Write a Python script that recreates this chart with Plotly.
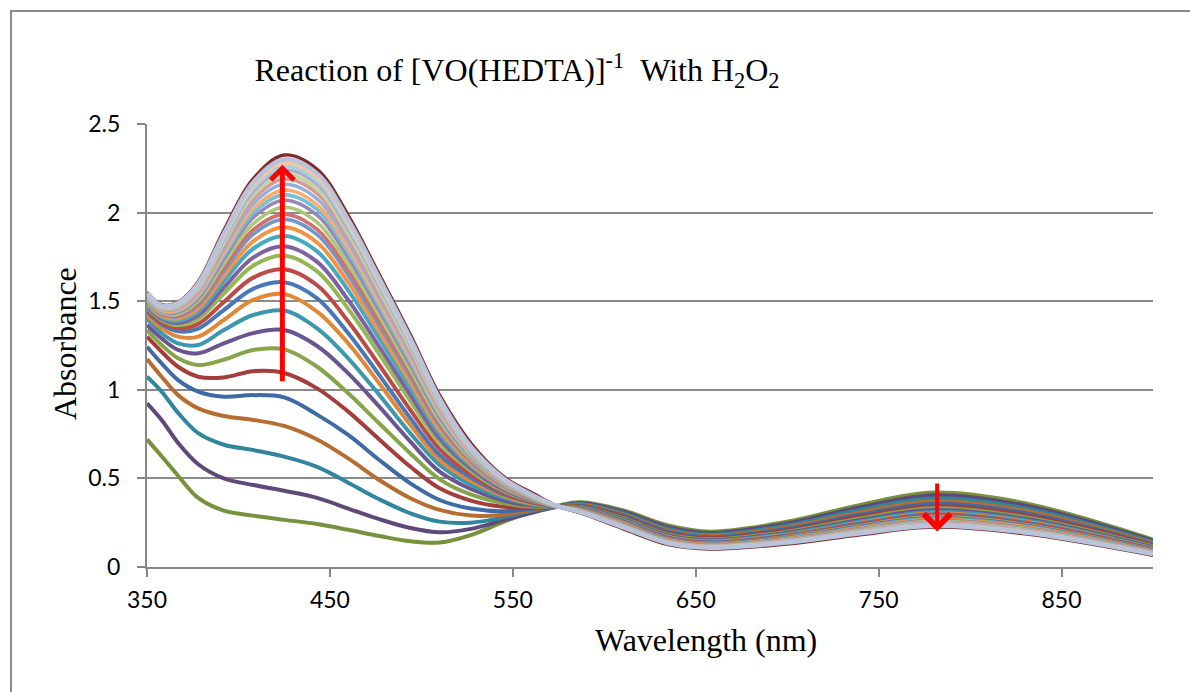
import plotly.graph_objects as go

# Wavelength grid (nm) at which absorbance values were read
wavelength = [350, 358, 367, 378, 392, 408, 425, 443, 460, 477, 494, 510, 527, 545, 562,
              574, 587, 610, 635, 658, 700, 740, 780, 830, 900]

# Absorbance spectra, in acquisition order (first scan = lowest at 425 nm)
scan01 = [0.72, 0.625, 0.515, 0.39, 0.318, 0.29, 0.266, 0.243, 0.21, 0.175, 0.145, 0.138, 0.18, 0.255, 0.315, 0.345, 0.365, 0.32, 0.234, 0.199, 0.255, 0.35, 0.42, 0.36, 0.155]
scan02 = [0.924, 0.83, 0.70, 0.58, 0.50, 0.463, 0.43, 0.39, 0.33, 0.27, 0.22, 0.196, 0.215, 0.265, 0.31, 0.34, 0.361, 0.313, 0.225, 0.192, 0.246, 0.337, 0.405, 0.347, 0.148]
scan03 = [1.074, 0.99, 0.87, 0.755, 0.69, 0.66, 0.623, 0.565, 0.476, 0.382, 0.303, 0.256, 0.25, 0.28, 0.32, 0.34, 0.355, 0.304, 0.215, 0.183, 0.234, 0.322, 0.387, 0.331, 0.14]
scan04 = [1.174, 1.074, 0.97, 0.895, 0.852, 0.83, 0.796, 0.72, 0.613, 0.491, 0.388, 0.322, 0.29, 0.295, 0.325, 0.34, 0.351, 0.297, 0.206, 0.175, 0.224, 0.308, 0.371, 0.317, 0.133]
scan05 = [1.243, 1.149, 1.055, 0.99, 0.961, 0.97, 0.957, 0.86, 0.745, 0.604, 0.472, 0.378, 0.33, 0.315, 0.33, 0.34, 0.346, 0.29, 0.198, 0.168, 0.215, 0.295, 0.356, 0.304, 0.127]
scan06 = [1.30, 1.215, 1.13, 1.074, 1.07, 1.105, 1.095, 1.008, 0.877, 0.72, 0.566, 0.444, 0.375, 0.34, 0.335, 0.34, 0.342, 0.283, 0.189, 0.162, 0.206, 0.284, 0.342, 0.292, 0.121]
scan07 = [1.337, 1.253, 1.178, 1.14, 1.17, 1.225, 1.228, 1.13, 0.98, 0.81, 0.641, 0.495, 0.41, 0.36, 0.34, 0.34, 0.339, 0.277, 0.183, 0.156, 0.199, 0.274, 0.331, 0.281, 0.116]
scan08 = [1.366, 1.29, 1.225, 1.206, 1.262, 1.32, 1.337, 1.247, 1.093, 0.905, 0.707, 0.538, 0.44, 0.375, 0.345, 0.34, 0.336, 0.272, 0.178, 0.151, 0.193, 0.265, 0.321, 0.272, 0.111]
scan09 = [1.40, 1.319, 1.262, 1.253, 1.337, 1.422, 1.447, 1.347, 1.178, 0.971, 0.754, 0.576, 0.465, 0.39, 0.35, 0.34, 0.333, 0.267, 0.173, 0.147, 0.187, 0.257, 0.311, 0.264, 0.107]
scan10 = [1.42, 1.347, 1.30, 1.30, 1.394, 1.507, 1.54, 1.441, 1.262, 1.036, 0.801, 0.604, 0.485, 0.40, 0.355, 0.34, 0.331, 0.262, 0.169, 0.143, 0.182, 0.25, 0.303, 0.257, 0.104]
scan11 = [1.44, 1.37, 1.33, 1.345, 1.45, 1.57, 1.607, 1.516, 1.319, 1.083, 0.839, 0.632, 0.505, 0.41, 0.36, 0.34, 0.329, 0.259, 0.166, 0.14, 0.178, 0.245, 0.297, 0.251, 0.101]
scan12 = [1.451, 1.381, 1.347, 1.372, 1.495, 1.633, 1.68, 1.59, 1.386, 1.14, 0.886, 0.665, 0.523, 0.419, 0.364, 0.341, 0.327, 0.255, 0.163, 0.136, 0.174, 0.239, 0.29, 0.245, 0.098]
scan13 = [1.463, 1.393, 1.365, 1.40, 1.543, 1.70, 1.757, 1.668, 1.457, 1.201, 0.936, 0.701, 0.543, 0.429, 0.369, 0.341, 0.325, 0.252, 0.159, 0.133, 0.169, 0.233, 0.283, 0.239, 0.095]
scan14 = [1.471, 1.401, 1.377, 1.42, 1.576, 1.746, 1.81, 1.722, 1.507, 1.243, 0.971, 0.725, 0.556, 0.436, 0.372, 0.341, 0.323, 0.249, 0.157, 0.131, 0.166, 0.229, 0.278, 0.235, 0.093]
scan15 = [1.48, 1.41, 1.39, 1.441, 1.612, 1.796, 1.868, 1.781, 1.561, 1.289, 1.009, 0.752, 0.571, 0.444, 0.375, 0.342, 0.322, 0.246, 0.154, 0.128, 0.163, 0.224, 0.273, 0.23, 0.09]
scan16 = [1.487, 1.417, 1.402, 1.459, 1.642, 1.838, 1.917, 1.831, 1.606, 1.328, 1.041, 0.774, 0.583, 0.45, 0.378, 0.342, 0.32, 0.244, 0.152, 0.126, 0.16, 0.22, 0.268, 0.226, 0.088]
scan17 = [1.494, 1.424, 1.412, 1.476, 1.67, 1.877, 1.962, 1.876, 1.647, 1.363, 1.07, 0.795, 0.595, 0.456, 0.38, 0.343, 0.319, 0.242, 0.15, 0.124, 0.157, 0.217, 0.264, 0.222, 0.087]
scan18 = [1.498, 1.428, 1.418, 1.486, 1.688, 1.902, 1.99, 1.905, 1.673, 1.385, 1.088, 0.808, 0.602, 0.46, 0.382, 0.343, 0.318, 0.24, 0.148, 0.123, 0.156, 0.214, 0.261, 0.22, 0.085]
scan19 = [1.504, 1.434, 1.428, 1.501, 1.712, 1.936, 2.03, 1.945, 1.71, 1.417, 1.114, 0.826, 0.612, 0.465, 0.384, 0.343, 0.317, 0.238, 0.147, 0.121, 0.154, 0.211, 0.258, 0.217, 0.084]
scan20 = [1.51, 1.44, 1.437, 1.515, 1.737, 1.971, 2.07, 1.986, 1.747, 1.448, 1.14, 0.844, 0.622, 0.47, 0.387, 0.343, 0.316, 0.236, 0.145, 0.119, 0.151, 0.208, 0.254, 0.214, 0.082]
scan21 = [1.515, 1.445, 1.444, 1.526, 1.756, 1.997, 2.10, 2.017, 1.775, 1.472, 1.16, 0.858, 0.629, 0.474, 0.388, 0.344, 0.315, 0.235, 0.143, 0.118, 0.149, 0.206, 0.251, 0.211, 0.081]
scan22 = [1.519, 1.449, 1.45, 1.536, 1.773, 2.02, 2.127, 2.044, 1.80, 1.493, 1.177, 0.871, 0.636, 0.478, 0.39, 0.344, 0.315, 0.233, 0.142, 0.117, 0.148, 0.204, 0.249, 0.209, 0.08]
scan23 = [1.524, 1.454, 1.458, 1.548, 1.793, 2.049, 2.16, 2.078, 1.831, 1.52, 1.199, 0.886, 0.645, 0.482, 0.392, 0.344, 0.314, 0.232, 0.14, 0.115, 0.146, 0.201, 0.246, 0.206, 0.079]
scan24 = [1.528, 1.458, 1.465, 1.559, 1.812, 2.075, 2.19, 2.108, 1.858, 1.543, 1.218, 0.899, 0.652, 0.486, 0.394, 0.344, 0.313, 0.23, 0.139, 0.114, 0.144, 0.199, 0.243, 0.204, 0.077]
scan25 = [1.532, 1.462, 1.47, 1.569, 1.827, 2.096, 2.215, 2.133, 1.881, 1.563, 1.235, 0.911, 0.658, 0.489, 0.395, 0.344, 0.312, 0.229, 0.138, 0.113, 0.143, 0.197, 0.241, 0.202, 0.076]
scan26 = [1.536, 1.466, 1.476, 1.578, 1.843, 2.118, 2.24, 2.159, 1.904, 1.582, 1.251, 0.922, 0.665, 0.492, 0.397, 0.345, 0.312, 0.228, 0.137, 0.112, 0.142, 0.195, 0.239, 0.20, 0.075]
scan27 = [1.539, 1.469, 1.481, 1.585, 1.855, 2.135, 2.26, 2.179, 1.923, 1.598, 1.264, 0.932, 0.67, 0.495, 0.398, 0.345, 0.311, 0.227, 0.136, 0.111, 0.14, 0.193, 0.237, 0.198, 0.075]
scan28 = [1.542, 1.472, 1.485, 1.593, 1.868, 2.153, 2.28, 2.20, 1.941, 1.614, 1.277, 0.941, 0.675, 0.497, 0.399, 0.345, 0.311, 0.226, 0.135, 0.11, 0.139, 0.192, 0.235, 0.197, 0.074]
scan29 = [1.545, 1.475, 1.49, 1.60, 1.88, 2.17, 2.30, 2.22, 1.96, 1.63, 1.29, 0.95, 0.68, 0.50, 0.40, 0.345, 0.31, 0.225, 0.134, 0.109, 0.138, 0.19, 0.233, 0.195, 0.073]
scan30 = [1.55, 1.48, 1.495, 1.61, 1.90, 2.19, 2.325, 2.245, 1.985, 1.65, 1.31, 0.97, 0.70, 0.51, 0.41, 0.345, 0.305, 0.217, 0.126, 0.101, 0.13, 0.182, 0.225, 0.187, 0.066]

scans = [scan01, scan02, scan03, scan04, scan05, scan06, scan07, scan08, scan09, scan10,
         scan11, scan12, scan13, scan14, scan15, scan16, scan17, scan18, scan19, scan20,
         scan21, scan22, scan23, scan24, scan25, scan26, scan27, scan28, scan29, scan30]

x_ticks = [350, 450, 550, 650, 750, 850]
y_ticks = [0, 0.5, 1, 1.5, 2, 2.5]
y_tick_text = ["0", "0.5", "1", "1.5", "2", "2.5"]

colors = ["#76923C", "#5F497A", "#31859C", "#B66D31", "#3E6BA6", "#A43E3C",
          "#86A44A", "#6A5590", "#3A97AE", "#E0883A", "#4978B8", "#BC4A47",
          "#95B756", "#7D61A0", "#47A8C2", "#F39343", "#6F98CE", "#CE7270",
          "#ADC779", "#9A86B7", "#74C1D5", "#F8AC72", "#95B0DA", "#D99896",
          "#C3D59F", "#B6A8CB", "#A3D3E0", "#FAC59E", "#B9C4DC", "#7F2B2A"]
widths = [4.0] * 16 + [3.6] * 12 + [4.4, 3.4]

fig = go.Figure()
draw_order = list(range(28)) + [29, 28]
for i in draw_order:
    fig.add_trace(go.Scatter(
        x=wavelength, y=scans[i], mode="lines",
        line=dict(color=colors[i], width=widths[i], shape="spline", smoothing=1.0),
        showlegend=False, hoverinfo="skip"))

serif = "Liberation Serif, Times New Roman, serif"
sans = "Lato, Open Sans, sans-serif"

fig.update_layout(
    width=1190, height=692,
    margin=dict(l=147, r=37, t=124, b=125),
    paper_bgcolor="white", plot_bgcolor="white",
    title=dict(
        text="Reaction of [VO(HEDTA)]<sup>-1</sup> &nbsp;With H<sub>2</sub>O<sub>2</sub>",
        font=dict(family=serif, size=32, color="black"),
        x=(517 - 147) / 1006, xref="paper", xanchor="center",
        y=1 - 70 / 692, yref="container", yanchor="middle"),
    xaxis=dict(
        range=[350, 900], tickvals=x_ticks, ticktext=[str(t) for t in x_ticks],
        showgrid=False, zeroline=False,
        showline=True, linecolor="#868686", linewidth=2,
        ticks="outside", ticklen=8, tickwidth=2, tickcolor="#868686",
        tickfont=dict(family=sans, size=23, color="black"),
        ticklabelstandoff=3),
    yaxis=dict(
        range=[0, 2.5], tickvals=y_ticks, ticktext=y_tick_text,
        showgrid=True, gridcolor="#8a8a8a", gridwidth=1.6,
        zeroline=False,
        showline=True, linecolor="#868686", linewidth=2,
        ticks="outside", ticklen=8, tickwidth=2, tickcolor="#868686",
        tickfont=dict(family=sans, size=23, color="black"),
        ticklabelstandoff=12),
    annotations=[
        dict(text="Absorbance", textangle=-90, showarrow=False,
             xref="paper", yref="paper", x=(65 - 147) / 1006, y=(567 - 344) / 443,
             xanchor="center", yanchor="middle",
             font=dict(family=serif, size=32, color="black")),
        dict(text="Wavelength (nm)", showarrow=False,
             xref="paper", yref="paper", x=(706 - 147) / 1006, y=(567 - 640) / 443,
             xanchor="center", yanchor="middle",
             font=dict(family=serif, size=32, color="black")),
        dict(x=424, y=2.27, ax=424, ay=1.04, xref="x", yref="y", axref="x", ayref="y",
             text="", showarrow=True, arrowhead=4, arrowsize=0.9, arrowwidth=5,
             arrowcolor="#FF0000"),
        dict(x=782, y=0.20, ax=782, ay=0.48, xref="x", yref="y", axref="x", ayref="y",
             text="", showarrow=True, arrowhead=4, arrowsize=1.3, arrowwidth=4,
             arrowcolor="#FF0000"),
    ],
    shapes=[
        dict(type="rect", xref="paper", yref="paper",
             x0=(11 - 147) / 1006, x1=(1195 - 147) / 1006,
             y0=(567 - 697) / 443, y1=(567 - 11) / 443,
             line=dict(color="#8c8c8c", width=2), fillcolor="rgba(0,0,0,0)", layer="below"),
    ],
)

fig.write_html("out.html")
